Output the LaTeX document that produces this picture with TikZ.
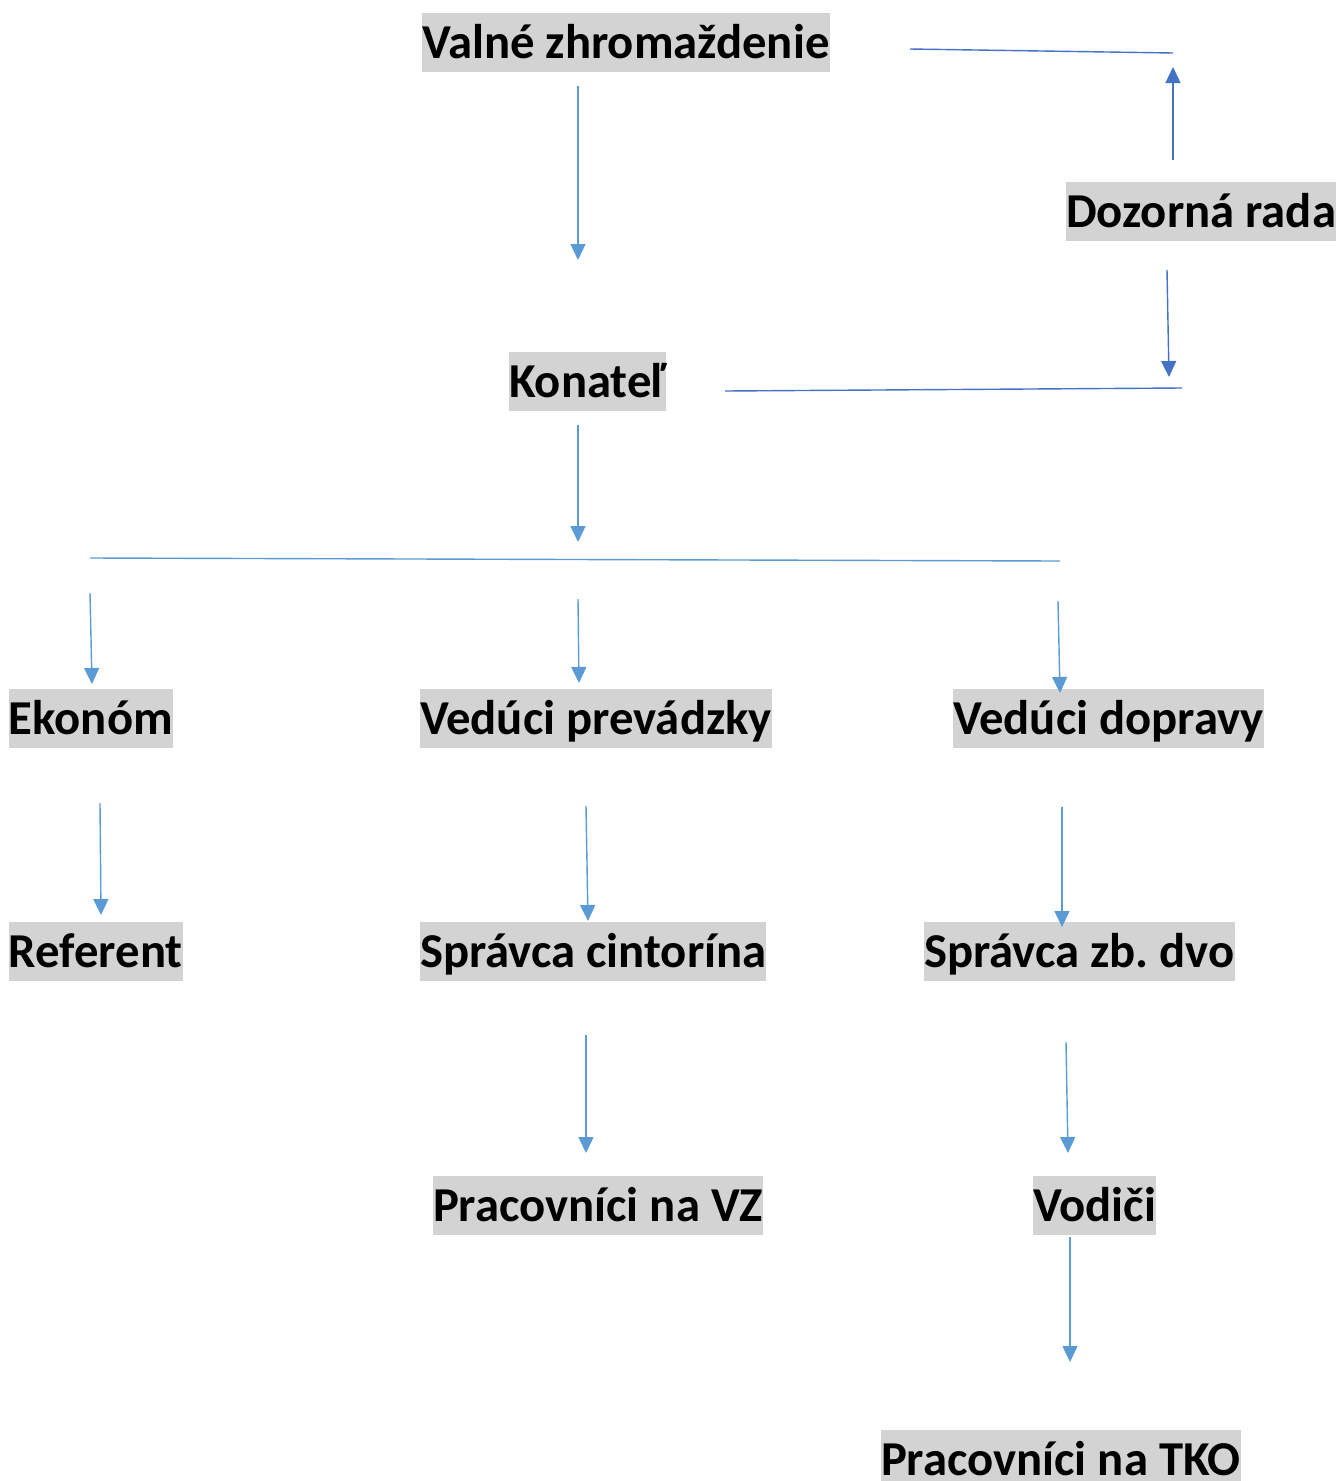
\documentclass[tikz,border=0pt]{standalone}
\usepackage{fontspec}
\setmainfont{Carlito}
\usetikzlibrary{arrows.meta}
\definecolor{hl}{HTML}{D3D3D3}
\definecolor{lblue}{HTML}{5B9BD5}
\definecolor{dblue}{HTML}{4472C4}
\tikzset{
  lbl/.style={anchor=north west, fill=hl, inner sep=0pt, outer sep=0pt,
    font=\fontsize{48.7}{58}\selectfont\bfseries\frenchspacing, text height=45.7pt, text depth=13.3pt},
  conn/.style={draw=lblue, line width=1.4pt},
  arr/.style={conn, -{Triangle[width=15pt,length=16pt]}, lblue},
  dconn/.style={draw=dblue, line width=1.4pt},
  darr/.style={dconn, -{Triangle[width=15pt,length=16pt]}, dblue}
}
\begin{document}
\begin{tikzpicture}[x=1pt,y=-1pt]
\useasboundingbox (0,0) rectangle (1339,1481);
\clip (0,0) rectangle (1339,1481);
% nodes
\node[lbl] (vz)  at (422,13)   {Valné zhromaždenie};
\node[lbl] (dr)  at (1066,182) {Dozorná rada};
\node[lbl] (kon) at (509,352)  {Konateľ};
\node[lbl] (eko) at (9,689)    {Ekonóm};
\node[lbl] (vp)  at (420,689)  {Vedúci prevádzky};
\node[lbl] (vd)  at (953,689)  {Vedúci dopravy};
\node[lbl] (ref) at (9,922)    {Referent};
\node[lbl] (sc)  at (420,922)  {Správca cintorína};
\node[lbl] (szd) at (924,922)  {Správca zb.\ dvo};
\node[lbl] (pvz) at (433,1176) {Pracovníci na VZ};
\node[lbl] (vod) at (1033,1176){Vodiči};
\node[lbl] (tko) at (881,1430) {Pracovníci na TKO};
% coordinates
\coordinate (a1s) at (578,86);   \coordinate (a1e) at (578,260);
\coordinate (t1s) at (910,49);   \coordinate (t1e) at (1173,53);
\coordinate (u1s) at (1173,160); \coordinate (u1e) at (1173,67);
\coordinate (d1s) at (1167,270); \coordinate (d1e) at (1169,377);
\coordinate (b1s) at (725,391);  \coordinate (b1e) at (1182,388);
\coordinate (a2s) at (578,425);  \coordinate (a2e) at (578,542);
\coordinate (hs)  at (90,558);   \coordinate (he)  at (1060,561);
\coordinate (e1s) at (90,593);   \coordinate (e1e) at (92,684);
\coordinate (p1s) at (578,599);  \coordinate (p1e) at (579,683);
\coordinate (v1s) at (1058,601); \coordinate (v1e) at (1060,693);
\coordinate (e2s) at (100,803);  \coordinate (e2e) at (101,915);
\coordinate (p2s) at (586,806);  \coordinate (p2e) at (588,921);
\coordinate (v2s) at (1062,807); \coordinate (v2e) at (1062,927);
\coordinate (p3s) at (586,1035); \coordinate (p3e) at (586,1153);
\coordinate (v3s) at (1066,1042);\coordinate (v3e) at (1068,1153);
\coordinate (v4s) at (1070,1237);\coordinate (v4e) at (1070,1362);
% connectors
\draw[arr] (a1s) -- (a1e);
\draw[dconn] (t1s) -- (t1e);
\draw[darr] (u1s) -- (u1e);
\draw[darr] (d1s) -- (d1e);
\draw[dconn] (b1s) -- (b1e);
\draw[arr] (a2s) -- (a2e);
\draw[conn] (hs) -- (he);
\draw[arr] (e1s) -- (e1e);
\draw[arr] (p1s) -- (p1e);
\draw[arr] (v1s) -- (v1e);
\draw[arr] (e2s) -- (e2e);
\draw[arr] (p2s) -- (p2e);
\draw[arr] (v2s) -- (v2e);
\draw[arr] (p3s) -- (p3e);
\draw[arr] (v3s) -- (v3e);
\draw[arr] (v4s) -- (v4e);
\end{tikzpicture}
\end{document}
